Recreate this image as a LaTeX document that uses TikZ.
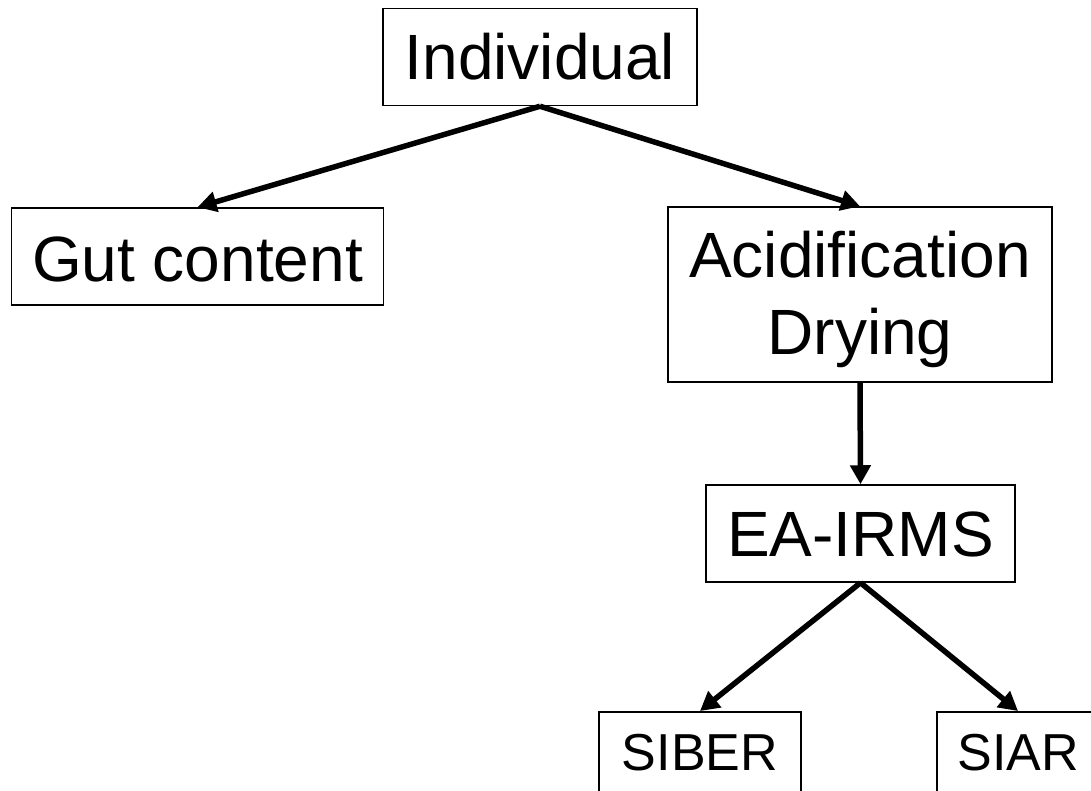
\documentclass[tikz,border=0pt]{standalone}
\usepackage{fontspec}
\setmainfont{Liberation Sans}
\usetikzlibrary{arrows.meta}
\begin{document}
\begin{tikzpicture}[x=1pt,y=-1pt,
  boxnode/.style={draw=black,line width=1.5pt,rectangle,inner sep=0pt,font=\fontsize{64}{77}\selectfont,text depth=0pt},
  smallbox/.style={boxnode,font=\fontsize{52}{62}\selectfont},
  conn/.style={line width=5.5pt,-{Triangle[length=19pt,width=20pt]}}]
\useasboundingbox (0,0) rectangle (1091,790);
\clip (0,0) rectangle (1091,790);
\node[boxnode,minimum width=314pt,minimum height=97pt,text height=44pt] (ind) at (540,57) {Individual};
\node[boxnode,minimum width=372pt,minimum height=97pt,text height=49pt] (gut) at (197.5,256.5) {Gut content};
\node[boxnode,minimum width=384pt,minimum height=175pt,text height=119pt] (acid) at (860,294.5) {\begin{tabular}[b]{@{}c@{}}Acidification\\Drying\end{tabular}};
\node[boxnode,minimum width=309pt,minimum height=97pt,text height=45pt] (ea) at (860.5,533.5) {EA-IRMS};
\node[smallbox,minimum width=202pt,minimum height=97pt,text height=21pt,anchor=north] (siber) at (700,711) {SIBER};
\node[smallbox,minimum width=162pt,minimum height=97pt,text height=21pt,anchor=north] (siar) at (1018,711) {SIAR};
\draw[conn] (ind.south) -- (gut.north);
\draw[conn] (ind.south) -- (acid.north);
\draw[conn] (acid.south) -- (ea.north);
\draw[conn] (ea.south) -- (siber.north);
\draw[conn] (ea.south) -- (siar.north);
\end{tikzpicture}
\end{document}
